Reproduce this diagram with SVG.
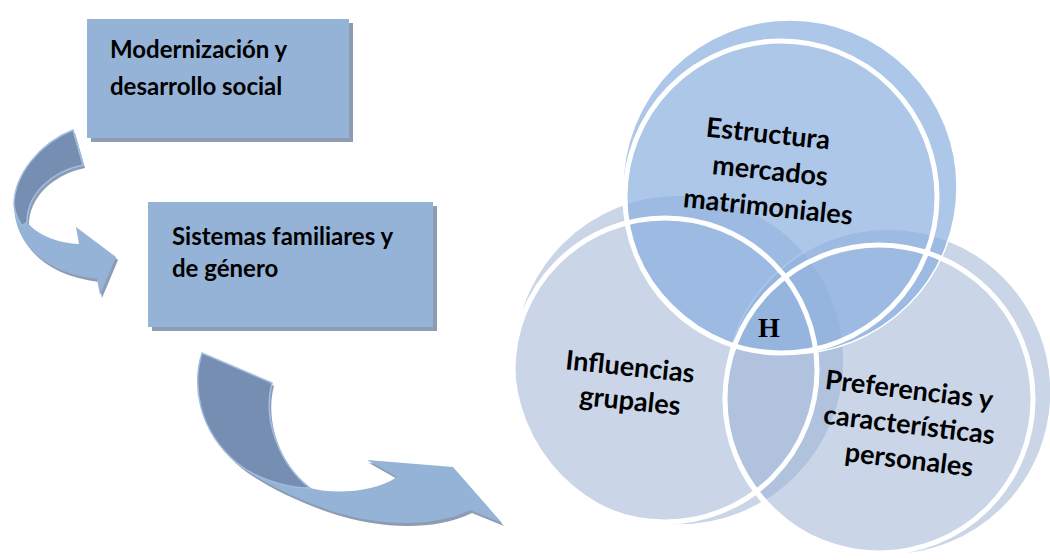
<svg xmlns="http://www.w3.org/2000/svg" xmlns:xlink="http://www.w3.org/1999/xlink" width="1050" height="560" viewBox="0 0 1050 560">
<style>
.box{fill:#95b3d7}
.shadow{fill:#8d9cb3}
.btxt{font-family:Lato,"Open Sans","Liberation Sans",sans-serif;font-weight:bold;font-size:24px;fill:#000}
.ctxt{font-family:Lato,"Open Sans","Liberation Sans",sans-serif;font-weight:bold;font-size:27px;fill:#000;text-anchor:middle}
.light{fill:#95b3d7}
.dark{fill:#768eb1;stroke:#a3bde0;stroke-width:1.5}
.ring{fill:none;stroke:#fff;stroke-width:5}
.edge{stroke:#fff;stroke-width:1.5}
</style>
<defs>
<path id="a1" d="M73,130 C40,143 14,175 14,205 C14,240 40,272 97,279 L100,295 L116,257 L76,227 L79,244 C55,243 35,233 27,222 C27,195 50,172 83,165 Z"/>
<path id="a2" d="M202,353 C192,385 198,430 237,463 C265,487 330,515 370,520 C400,525 440,525 470,510 L502,523 L453,467 L367,460 L397,477 C375,492 335,495 310,488 C280,465 262,420 272,383 Z"/>
</defs>
<g id="box1">
<rect class="shadow" x="91" y="23" width="262" height="119"/>
<rect class="box" x="87" y="19" width="262" height="119"/>
<text class="btxt" x="110" y="58">Modernización y</text>
<text class="btxt" x="110" y="95">desarrollo social</text>
</g>
<g id="box2">
<rect class="shadow" x="152" y="206" width="285" height="125"/>
<rect class="box" x="148" y="202" width="285" height="125"/>
<text class="btxt" x="172" y="245">Sistemas familiares y</text>
<text class="btxt" x="172" y="277">de género</text>
</g>
<g id="connectors">
<g id="arrow1">
<use xlink:href="#a1" href="#a1" class="shadow" transform="translate(2,3)"/>
<use xlink:href="#a1" href="#a1" class="light"/>
<path class="dark" d="M73,130 C40,143 14,175 14,205 C15,213 18,220 22,226 L27,222 C27,195 50,172 83,165 Z"/>
</g>
<g id="arrow2">
<use xlink:href="#a2" href="#a2" class="shadow" transform="translate(2,3)"/>
<use xlink:href="#a2" href="#a2" class="light"/>
<path class="dark" d="M202,353 C192,385 198,430 237,463 C255,478 285,488 310,488 C280,465 262,420 272,383 Z"/>
</g>
</g>
<g id="venn">
<circle class="edge" cx="679" cy="360" r="165" fill="#97afd2" fill-opacity="0.51"/>
<circle class="edge" cx="888" cy="392" r="163" fill="#97afd2" fill-opacity="0.51"/>
<circle class="edge" cx="790" cy="187" r="167" fill="#8aafdf" fill-opacity="0.7"/>
<circle class="ring" cx="665" cy="370" r="152"/>
<circle class="ring" cx="879" cy="399" r="154"/>
<circle class="ring" cx="781" cy="197" r="156"/>
</g>
<g id="top">
<text class="ctxt" transform="rotate(6 768 135)" x="768" y="143">Estructura</text>
<text class="ctxt" transform="rotate(6 770 172)" x="770" y="180">mercados</text>
<text class="ctxt" transform="rotate(6 768 208)" x="768" y="216">matrimoniales</text>
</g>
<g id="left">
<text class="ctxt" transform="rotate(6 630 368)" x="630" y="376">Influencias</text>
<text class="ctxt" transform="rotate(6 630 402)" x="630" y="410">grupales</text>
</g>
<g id="right">
<text class="ctxt" transform="rotate(7 909 391)" x="909" y="399">Preferencias y</text>
<text class="ctxt" transform="rotate(7 909 426)" x="909" y="434">características</text>
<text class="ctxt" transform="rotate(7 909 461)" x="909" y="469">personales</text>
</g>
<g id="center">
<text x="769" y="337" font-family="'Liberation Serif',serif" font-weight="bold" font-size="28" text-anchor="middle">H</text>
</g>
</svg>
